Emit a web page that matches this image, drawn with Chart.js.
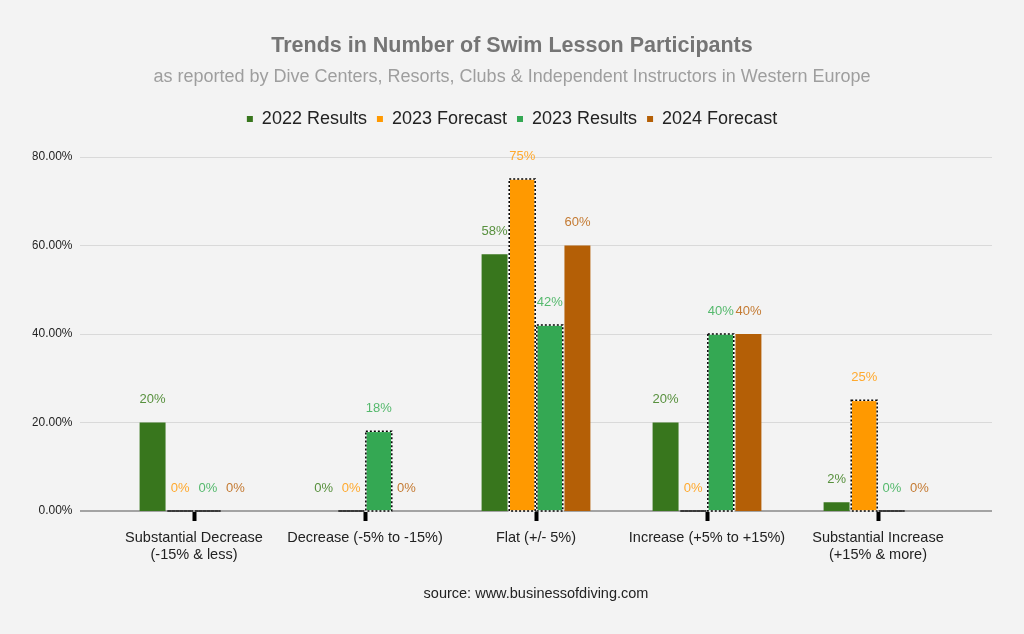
<!DOCTYPE html>
<html>
<head>
<meta charset="utf-8">
<script src="https://cdn.jsdelivr.net/npm/chart.js@4"></script>
<style>
    html, body { margin: 0; padding: 0; background: #f3f3f3; }
</style>
</head>
<body>
<canvas id="swimChart" width="1024" height="634"></canvas>
<script>
// --- data ---
const categories = [
    ['Substantial Decrease', '(-15% & less)'],
    'Decrease (-5% to -15%)',
    'Flat (+/- 5%)',
    'Increase (+5% to +15%)',
    ['Substantial Increase', '(+15% & more)']
];
const seriesNames = ['2022 Results', '2023 Forecast', '2023 Results', '2024 Forecast'];
const results2022 = [20, 0, 58, 20, 2];
const forecast2023 = [0, 0, 75, 0, 25];
const results2023 = [0, 18, 42, 40, 0];
const forecast2024 = [0, 0, 60, 40, 0];
const yTicks = [0, 20, 40, 60, 80];

const barColors = ['#38761d', '#ff9900', '#34a853', '#b45f06'];
const labelColors = ['#57903d', '#ffa92e', '#55b96d', '#c47a32'];
const dottedSeries = [1, 2]; // the two 2023 series have a dotted outline
const FONT = 'Arial, "Liberation Sans", sans-serif';

// grid lines drawn a bit wider than the plot area, like the original
const gridPlugin = {
    id: 'wideGrid',
    beforeDatasetsDraw(chart) {
        const { ctx, chartArea } = chart;
        const y = chart.scales.y;
        ctx.save();
        yTicks.forEach(v => {
            const py = Math.round(y.getPixelForValue(v));
            ctx.beginPath();
            if (v === 0) {
                ctx.strokeStyle = '#a3a3a3';
                ctx.lineWidth = 2;
            } else {
                ctx.strokeStyle = '#d9d9d9';
                ctx.lineWidth = 1;
            }
            const off = ctx.lineWidth % 2 ? 0.5 : 0;
            ctx.moveTo(chartArea.left - 28.5, py + off);
            ctx.lineTo(chartArea.right + 28.5, py + off);
            ctx.stroke();
        });
        ctx.restore();
    }
};

// dotted outline + value labels
const barExtras = {
    id: 'barExtras',
    afterDatasetsDraw(chart) {
        const ctx = chart.ctx;
        ctx.save();
        dottedSeries.forEach(di => {
            chart.getDatasetMeta(di).data.forEach(bar => {
                const left = bar.x - bar.width / 2;
                const top = Math.min(bar.y, bar.base);
                const h = Math.abs(bar.base - bar.y);
                ctx.lineWidth = 1.5;
                ctx.setLineDash([]);
                ctx.strokeStyle = '#ffffff';
                ctx.strokeRect(left, top, bar.width, h);
                ctx.setLineDash([2, 2]);
                ctx.strokeStyle = '#000000';
                ctx.strokeRect(left, top, bar.width, h);
            });
        });
        ctx.setLineDash([]);
        ctx.font = '13px ' + FONT;
        ctx.textAlign = 'center';
        ctx.textBaseline = 'middle';
        chart.data.datasets.forEach((ds, di) => {
            ctx.fillStyle = labelColors[di];
            chart.getDatasetMeta(di).data.forEach((bar, i) => {
                ctx.fillText(ds.data[i] + '%', bar.x, bar.y - 23);
            });
        });
        ctx.restore();
    }
};

// extra room between legend and plot
const legendGap = {
    id: 'legendGap',
    beforeInit(chart) {
        const fit = chart.legend.fit;
        chart.legend.fit = function () {
            fit.bind(chart.legend)();
            this.height += 19;
        };
    }
};

const seriesData = [results2022, forecast2023, results2023, forecast2024];

new Chart(document.getElementById('swimChart'), {
    type: 'bar',
    data: {
        labels: categories,
        datasets: seriesNames.map((name, i) => ({
            label: name,
            data: seriesData[i],
            backgroundColor: barColors[i],
            borderWidth: 0,
            barPercentage: 0.94,
            categoryPercentage: 0.646
        }))
    },
    options: {
        responsive: false,
        animation: false,
        devicePixelRatio: 1,
        // symmetric padding keeps title/legend centred on the page
        layout: { padding: { left: 32.5, right: 32.5, top: 0, bottom: 0 } },
        plugins: {
            title: {
                display: true,
                text: 'Trends in Number of Swim Lesson Participants',
                color: '#757575',
                font: { family: FONT, size: 21.5, weight: 'bold' },
                padding: { top: 33, bottom: 7 }
            },
            subtitle: {
                display: true,
                text: 'as reported by Dive Centers, Resorts, Clubs & Independent Instructors in Western Europe',
                color: '#9e9e9e',
                font: { family: FONT, size: 18 },
                padding: { top: 0, bottom: 12.5 }
            },
            legend: {
                display: true,
                position: 'top',
                labels: {
                    color: '#222222',
                    font: { family: FONT, size: 18 },
                    boxWidth: 6,
                    boxHeight: 6,
                    padding: 10
                }
            },
            tooltip: { enabled: false }
        },
        scales: {
            x: {
                grid: {
                    display: true,
                    drawOnChartArea: false,
                    drawTicks: true,
                    tickLength: 10,
                    tickWidth: 4,
                    tickColor: '#000000',
                    offset: false
                },
                border: { display: false },
                ticks: {
                    color: '#222222',
                    font: { family: FONT, size: 14.5 },
                    padding: 8,
                    maxRotation: 0,
                    autoSkip: false
                },
                title: {
                    display: true,
                    text: 'source: www.businessofdiving.com',
                    color: '#222222',
                    font: { family: FONT, size: 14.5 },
                    padding: { top: 0, bottom: 31 }
                },
                afterFit(scale) { scale.height = 123; }
            },
            y: {
                min: 0,
                max: 80,
                grid: { display: false, drawTicks: false },
                border: { display: false },
                ticks: {
                    stepSize: 20,
                    padding: 36,
                    color: '#222222',
                    font: { family: FONT, size: 12 },
                    callback: v => v.toFixed(2) + '%'
                },
                afterFit(scale) { scale.width = 76; }
            },
            // empty spacer on the right so the plot ends where the original does
            yRight: {
                position: 'right',
                display: true,
                grid: { display: false, drawTicks: false },
                border: { display: false },
                ticks: { display: false },
                afterFit(scale) { scale.width = 28; }
            }
        }
    },
    plugins: [gridPlugin, barExtras, legendGap]
});
</script>
</body>
</html>
